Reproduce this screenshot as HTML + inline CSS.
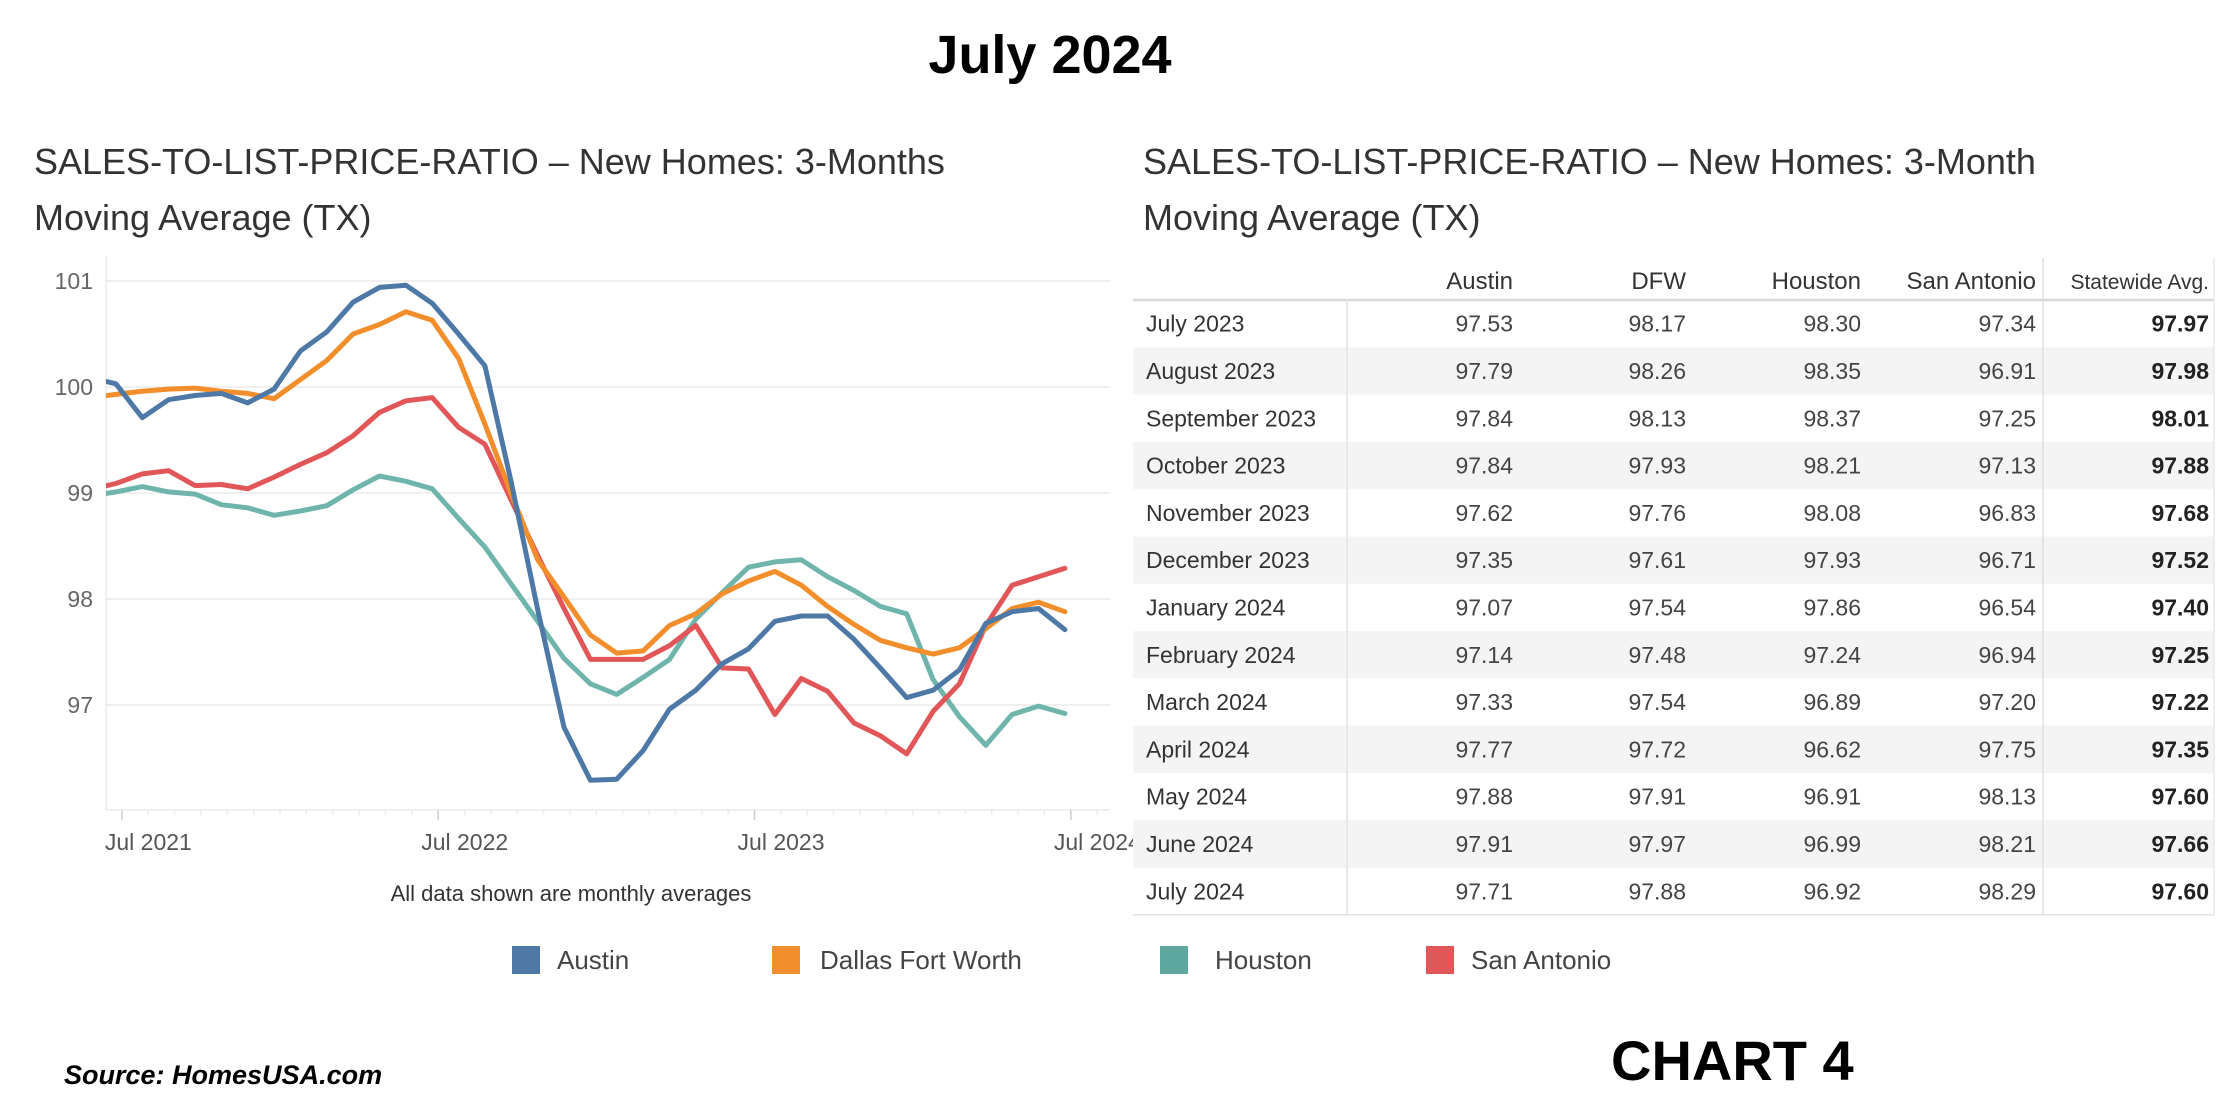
<!DOCTYPE html>
<html><head><meta charset="utf-8"><style>
html,body{margin:0;padding:0;background:#fff;}
svg{display:block;font-family:"Liberation Sans",sans-serif;}
</style></head><body>
<svg id="root" width="2240" height="1107" viewBox="0 0 2240 1107" xmlns="http://www.w3.org/2000/svg">
<text x="1050" y="73" text-anchor="middle" font-size="54" font-weight="bold" fill="#000">July 2024</text>
<g font-size="36" fill="#333">
<text x="34" y="174">SALES-TO-LIST-PRICE-RATIO – New Homes: 3-Months</text>
<text x="34" y="230">Moving Average (TX)</text>
</g>
<g font-size="36" fill="#333">
<text x="1143" y="174">SALES-TO-LIST-PRICE-RATIO – New Homes:  3-Month</text>
<text x="1143" y="230">Moving Average (TX)</text>
</g>
<g id="chart"></g>
<text x="571" y="901" text-anchor="middle" font-size="22" fill="#333">All data shown are monthly averages</text>
<g font-size="26" fill="#444">
<g><rect x="512" y="946" width="28" height="28" fill="#4e79a7"/><text x="557" y="969">Austin</text></g>
<g><rect x="772" y="946" width="28" height="28" fill="#f28e2b"/><text x="820" y="969">Dallas Fort Worth</text></g>
<g><rect x="1160" y="946" width="28" height="28" fill="#5fa89f"/><text x="1215" y="969">Houston</text></g>
<g><rect x="1426" y="946" width="28" height="28" fill="#e15759"/><text x="1471" y="969">San Antonio</text></g>
</g>
<g id="table"></g>
<text x="64" y="1084" font-size="27" font-weight="bold" font-style="italic" fill="#000">Source: HomesUSA.com</text>
<text x="1611" y="1080" font-size="56" font-weight="bold" fill="#000">CHART 4</text>
</svg>
<script>
const NS="http://www.w3.org/2000/svg";
const startMonthIndex=-1;
const austin=[100.09,100.03,99.71,99.88,99.92,99.94,99.85,99.98,100.34,100.52,100.80,100.94,100.96,100.79,100.50,100.20,99.10,97.90,96.79,96.29,96.30,96.57,96.96,97.14,97.39,97.53,97.79,97.84,97.84,97.62,97.35,97.07,97.14,97.33,97.77,97.88,97.91,97.71];
const dfw=[99.84,99.90,99.93,99.96,99.98,99.99,99.96,99.94,99.89,100.07,100.25,100.50,100.59,100.71,100.63,100.27,99.65,98.99,98.37,98.02,97.66,97.49,97.51,97.75,97.86,98.05,98.17,98.26,98.13,97.93,97.76,97.61,97.54,97.48,97.54,97.72,97.91,97.97,97.88].slice(1);
const houston=[98.97,99.01,99.06,99.01,98.99,98.89,98.86,98.79,98.83,98.88,99.03,99.16,99.11,99.04,98.76,98.49,98.14,97.79,97.44,97.20,97.10,97.26,97.43,97.81,98.06,98.30,98.35,98.37,98.21,98.08,97.93,97.86,97.24,96.89,96.62,96.91,96.99,96.92];
const sanAntonio=[99.03,99.09,99.18,99.21,99.07,99.08,99.04,99.15,99.27,99.38,99.54,99.76,99.87,99.90,99.62,99.46,98.93,98.41,97.91,97.43,97.43,97.43,97.56,97.75,97.35,97.34,96.91,97.25,97.13,96.83,96.71,96.54,96.94,97.20,97.75,98.13,98.21,98.29];
const yTicks=[97,98,99,100,101];
const xTickLabels=["Jul 2021","Jul 2022","Jul 2023","Jul 2024"];
const xTickMonths=[0,12,24,36];

const plot={l:106,r:1110,t:256,b:810};
const x=m=>115.9+m*26.36;
const y=v=>281+(101-v)*106;
const g=document.getElementById('chart');
function mk(tag,attrs,parent){const e=document.createElementNS(NS,tag);for(const k in attrs)e.setAttribute(k,attrs[k]);(parent||g).appendChild(e);return e;}

const defs=mk('defs',{});
const cp=mk('clipPath',{id:'pc'},defs);
mk('rect',{x:plot.l,y:plot.t-20,width:plot.r-plot.l,height:plot.b-plot.t+40},cp);

yTicks.forEach(v=>{
  const gl=mk('line',{x1:plot.l,x2:plot.r,y1:y(v),y2:y(v),stroke:'#f0f0f0','stroke-width':2});
  
  
  const t=mk('text',{x:93,y:y(v)+8,'text-anchor':'end','font-size':23,fill:'#666'});
  t.textContent=v;
  
  
});
const ax=mk('line',{x1:plot.l,x2:plot.l,y1:plot.t,y2:plot.b,stroke:'#ececec','stroke-width':1.5});


const bx=mk('line',{x1:plot.l,x2:plot.r,y1:plot.b,y2:plot.b,stroke:'#ececec','stroke-width':1.5});


for(let m=0;m<=37;m++){
  const tx=x(m)+6;
  if(tx>plot.r)break;
  const major=xTickMonths.includes(m);
  const tk=mk('line',{x1:tx,x2:tx,y1:plot.b,y2:plot.b+(major?10:5),stroke:major?'#ccc':'#ececec','stroke-width':1.5});
  
  
}
xTickMonths.forEach((m,i)=>{
  const t=mk('text',{x:x(m)+6-17,y:850,'font-size':23,fill:'#555'});
  t.textContent=xTickLabels[i];
  
  
});
const series=[[houston,'#6fb5ac','houston-line'],[sanAntonio,'#e15759','san-antonio-line'],[dfw,'#f28e2b','dfw-line'],[austin,'#4e79a7','austin-line']];
series.forEach(([arr,col,name])=>{
  const off=arr.length===38?startMonthIndex:0;
  const d=arr.map((v,i)=>(i?'L':'M')+x(i+off).toFixed(1)+','+y(v).toFixed(1)).join('');
  const p=mk('path',{d:d,fill:'none',stroke:col,'stroke-width':5,'stroke-linejoin':'round','stroke-linecap':'round','clip-path':'url(#pc)'});
  
  
});

const rowLabels=["July 2023","August 2023","September 2023","October 2023","November 2023","December 2023","January 2024","February 2024","March 2024","April 2024","May 2024","June 2024","July 2024"];
const colHeaders=["Austin","DFW","Houston","San Antonio","Statewide Avg."];
const tAustin=["97.53","97.79","97.84","97.84","97.62","97.35","97.07","97.14","97.33","97.77","97.88","97.91","97.71"];
const tDfw=["98.17","98.26","98.13","97.93","97.76","97.61","97.54","97.48","97.54","97.72","97.91","97.97","97.88"];
const tHouston=["98.30","98.35","98.37","98.21","98.08","97.93","97.86","97.24","96.89","96.62","96.91","96.99","96.92"];
const tSA=["97.34","96.91","97.25","97.13","96.83","96.71","96.54","96.94","97.20","97.75","98.13","98.21","98.29"];
const tState=["97.97","97.98","98.01","97.88","97.68","97.52","97.40","97.25","97.22","97.35","97.60","97.66","97.60"];
const tg=document.getElementById('table');
const colRight=[1513,1686,1861,2036,2209];
const tL=1133,tR=2214,rowH=47.3,row0=300;
rowLabels.forEach((lab,i)=>{
  const top=row0+i*rowH;
  if(i%2===1){
    const r=mk('rect',{x:tL,y:top,width:tR-tL,height:rowH,fill:'#f4f4f4'},tg);
    
    
  }
  const cy=top+rowH/2+8;
  const t=mk('text',{x:1146,y:cy,'font-size':23,fill:'#333'},tg);
  t.textContent=lab;
  
  
  [tAustin,tDfw,tHouston,tSA,tState].forEach((col,j)=>{
    const c=mk('text',{x:colRight[j],y:cy,'text-anchor':'end','font-size':23,fill:j===4?'#222':'#444','font-weight':j===4?'bold':'normal'},tg);
    c.textContent=col[i];
    
    
  });
});
colHeaders.forEach((h,j)=>{
  const t=mk('text',{x:colRight[j],y:289,'text-anchor':'end','font-size':j===4?21:24,fill:'#333'},tg);
  t.textContent=h;
  
  
});
const tb=row0+13*rowH;
[[tL,300,tR,300,'#d8d8d8',2.5],[1347,300,1347,tb,'#e4e4e4',1.5],[2043,258,2043,tb,'#e0e0e0',1.5],[2214,258,2214,tb,'#e8e8e8',1.5],[tL,tb,tR,tb,'#e0e0e0',1.5]].forEach(a=>{
  const l=mk('line',{x1:a[0],y1:a[1],x2:a[2],y2:a[3],stroke:a[4],'stroke-width':a[5]},tg);
  
  
});
</script>
</body></html>
